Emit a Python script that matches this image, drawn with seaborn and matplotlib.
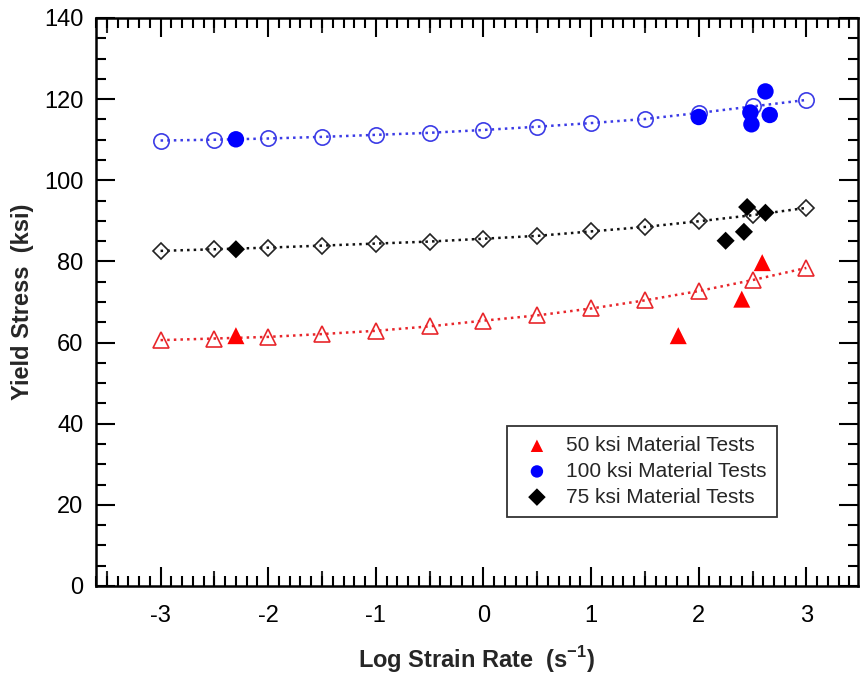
import numpy as np
import pandas as pd
import matplotlib
matplotlib.use("Agg")
import matplotlib.pyplot as plt
import seaborn as sns
from matplotlib.ticker import MultipleLocator, FixedLocator, NullLocator, NullFormatter

# Model curves (log strain rate vs. predicted yield stress)
log_rate = [-3.0, -2.5, -2.0, -1.5, -1.0, -0.5, 0.0, 0.5, 1.0, 1.5, 2.0, 2.5, 3.0]
model_50 = [60.6, 61.0, 61.4, 62.1, 62.9, 64.0, 65.4, 66.7, 68.4, 70.4, 72.7, 75.4, 78.4]
model_75 = [82.6, 83.0, 83.4, 83.9, 84.4, 84.9, 85.6, 86.3, 87.4, 88.5, 89.9, 91.4, 93.2]
model_100 = [109.8, 110.0, 110.3, 110.7, 111.2, 111.7, 112.4, 113.2, 114.1, 115.1, 116.6, 118.2, 119.8]

# Material test results
test50_x = [-2.3, 1.81, 2.40, 2.59]
test50_y = [61.7, 61.7, 70.7, 79.7]
test100_x = [-2.3, 2.0, 2.48, 2.49, 2.62, 2.66]
test100_y = [110.1, 115.6, 116.7, 113.8, 121.9, 116.1]
test75_x = [-2.3, 2.25, 2.42, 2.45, 2.62]
test75_y = [83.0, 85.1, 87.3, 93.4, 92.0]

legend_labels = ["50 ksi Material Tests", "100 ksi Material Tests", "75 ksi Material Tests"]
x_ticks = [-3, -2, -1, 0, 1, 2, 3]
y_ticks = [0, 20, 40, 60, 80, 100, 120, 140]

sns.set_style("ticks")
plt.rcParams["font.family"] = ["Liberation Sans", "DejaVu Sans"]
plt.rcParams["mathtext.fontset"] = "custom"
plt.rcParams["mathtext.rm"] = "Liberation Sans"
plt.rcParams["mathtext.bf"] = "Liberation Sans:bold"

fig = plt.figure(figsize=(8.6, 6.75), dpi=100)
ax = fig.add_axes([96 / 860, 1 - 586 / 675, 762 / 860, 568 / 675])

line_kw = dict(linestyle=":", linewidth=1.8, markersize=11, markerfacecolor="none",
               markeredgewidth=1.2)
sns.lineplot(x=log_rate, y=model_100, ax=ax, color="#3b3be6", marker="o",
             markeredgecolor="#3b3be6", **line_kw)
sns.lineplot(x=log_rate, y=model_75, ax=ax, color="#111111", marker="D",
             markeredgecolor="#222222", **{**line_kw, "markersize": 8.5})
sns.lineplot(x=log_rate, y=model_50, ax=ax, color="#e8262b", marker="^",
             markeredgecolor="#e8262b", **{**line_kw, "markersize": 11.5})

sns.scatterplot(x=test50_x, y=test50_y, ax=ax, marker="^", s=150, color="#ff0000",
                edgecolor="none", label=legend_labels[0], zorder=5)
sns.scatterplot(x=test100_x, y=test100_y, ax=ax, marker="o", s=140, color="#0000ff",
                edgecolor="none", label=legend_labels[1], zorder=5)
sns.scatterplot(x=test75_x, y=test75_y, ax=ax, marker="D", s=85, color="#000000",
                edgecolor="none", label=legend_labels[2], zorder=5)

ax.set_xlim(-3.6, 3.48)
ax.set_ylim(0, 140)

ax.xaxis.set_major_locator(FixedLocator(x_ticks))
ax.xaxis.set_minor_locator(MultipleLocator(0.1))
ax.yaxis.set_major_locator(FixedLocator(y_ticks))
ax.yaxis.set_minor_locator(MultipleLocator(5))
ax.set_xticklabels([str(t) for t in x_ticks])
ax.set_yticklabels([str(t) for t in y_ticks])

ax.tick_params(axis="both", which="both", direction="in", bottom=True, left=True,
               top=True, right=True, width=1.5, colors="black")
ax.tick_params(axis="both", which="major", length=14, labelsize=17)
ax.tick_params(axis="x", which="major", pad=14)
ax.tick_params(axis="y", which="major", pad=9)
ax.tick_params(axis="both", which="minor", length=7)

# half-decade ticks of intermediate length on top and bottom
for side in ("bottom", "top"):
    sec = ax.secondary_xaxis(side)
    sec.xaxis.set_major_locator(FixedLocator([-3.5, -2.5, -1.5, -0.5, 0.5, 1.5, 2.5]))
    sec.xaxis.set_minor_locator(NullLocator())
    sec.xaxis.set_major_formatter(NullFormatter())
    sec.tick_params(axis="x", which="major", direction="in", length=10.5, width=1.5)
    sec.spines[side].set_visible(False)

for sp in ax.spines.values():
    sp.set_linewidth(1.8)
    sp.set_color("black")

ax.set_xlabel(r"Log Strain Rate  (s$^{\mathbf{-1}}$)", fontsize=17, fontweight="bold")
ax.set_ylabel("Yield Stress  (ksi)", fontsize=17, fontweight="bold")
ax.xaxis.set_label_coords(0.5, -0.102)
ax.yaxis.set_label_coords(-0.082, 0.5)

leg = ax.legend(loc="upper left", bbox_to_anchor=(0.539, 0.282), fontsize=15,
                frameon=True, fancybox=False, shadow=False, borderpad=0.5,
                handlelength=1.9, handletextpad=0.45, labelspacing=0.32,
                borderaxespad=0)
leg.get_frame().set_edgecolor("black")
leg.get_frame().set_linewidth(1.3)
for h in leg.legend_handles:
    h.set_sizes([80])

fig.savefig("out.png", dpi=100)
